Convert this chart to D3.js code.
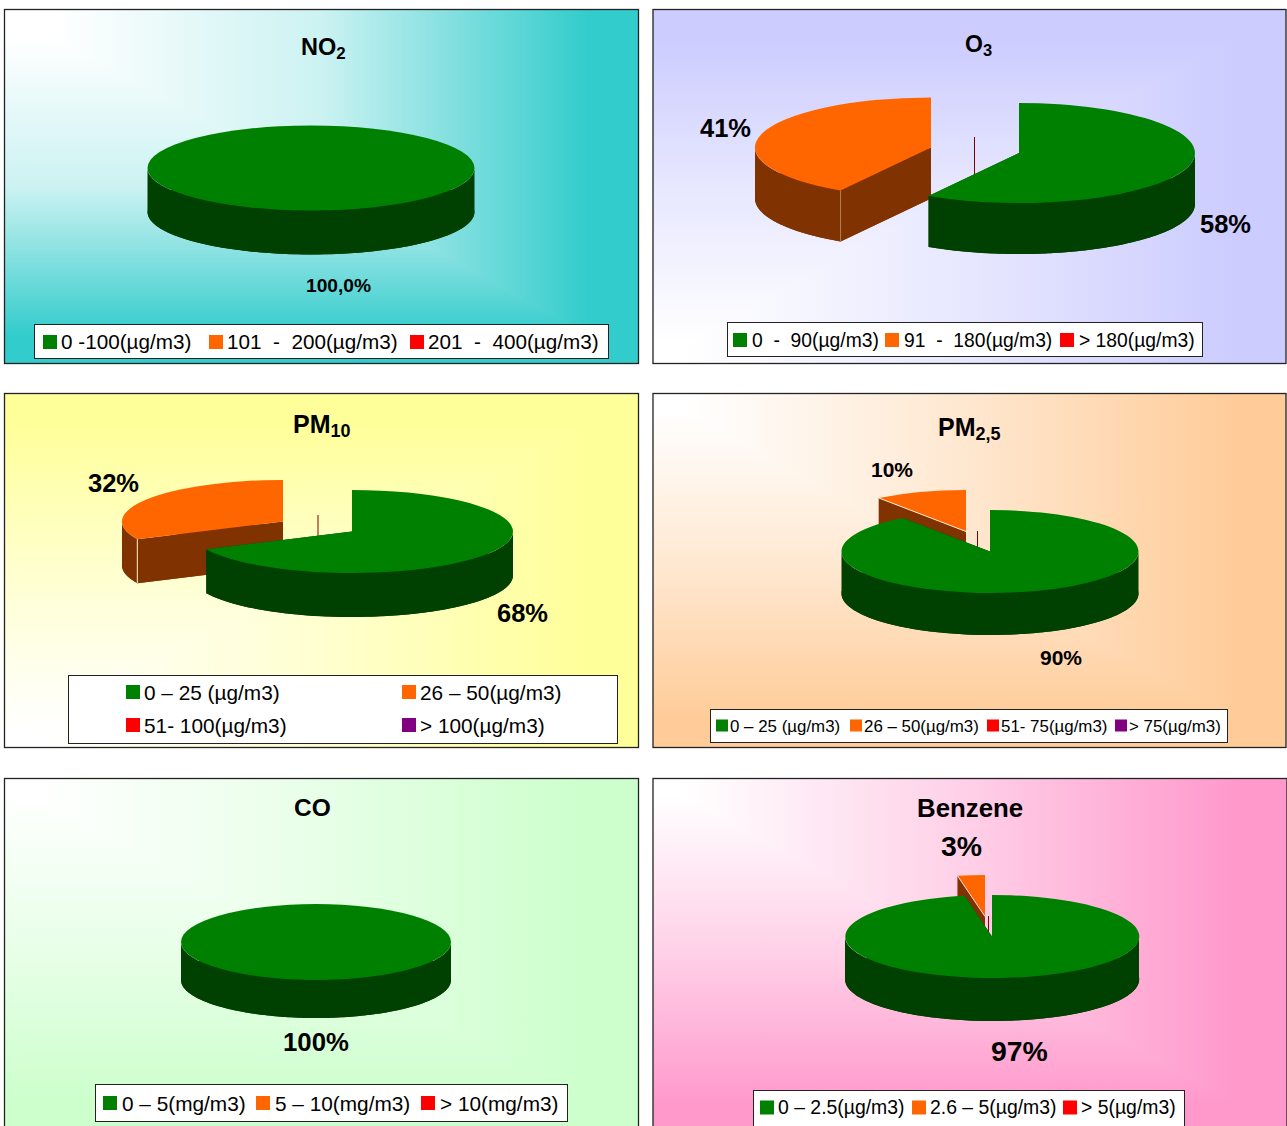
<!DOCTYPE html>
<html>
<head>
<meta charset="utf-8">
<script src="https://cdn.jsdelivr.net/npm/d3@7"></script>
<style>
  html, body { margin: 0; padding: 0; background: #fff; overflow: hidden; }
  text { font-family: "Liberation Sans", Arial, sans-serif; fill: #000; }
</style>
</head>
<body>
<div id="chart"></div>
<script>
// values, green / orange / red / purple
const no2_values = [100, 0, 0];
const o3_values = [58, 41, 0];
const pm10_values = [68, 32, 0, 0];
const pm25_values = [90, 10, 0, 0];
const co_values = [100, 0, 0];
const benzene_values = [97, 3, 0];

const no2_labels = ["100,0%"];
const o3_labels = ["58%", "41%"];
const pm10_labels = ["68%", "32%"];
const pm25_labels = ["90%", "10%"];
const co_labels = ["100%"];
const benzene_labels = ["97%", "3%"];

const no2_legend = ["0 -100(µg/m3)", "101  -  200(µg/m3)", "201  -  400(µg/m3)"];
const o3_legend = ["0  -  90(µg/m3)", "91  -  180(µg/m3)", "> 180(µg/m3)"];
const pm10_legend = ["0 – 25 (µg/m3)", "26 – 50(µg/m3)", "51- 100(µg/m3)", "> 100(µg/m3)"];
const pm25_legend = ["0 – 25 (µg/m3)", "26 – 50(µg/m3)", "51- 75(µg/m3)", "> 75(µg/m3)"];
const co_legend = ["0 – 5(mg/m3)", "5 – 10(mg/m3)", "> 10(mg/m3)"];
const benzene_legend = ["0 – 2.5(µg/m3)", "2.6 – 5(µg/m3)", "> 5(µg/m3)"];

const top_colors = ["#008000", "#ff6600", "#ff0000", "#800080"];
const wall_colors = ["#004000", "#803300", "#800000", "#400040"];

// gradient stops as [offset, share of panel colour]
const soft_fade = [[0.08, 0], [0.5, 0.25], [0.7, 0.6], [0.92, 1]];
const even_fade = [[0.05, 0], [0.5, 0.47], [0.92, 1]];

const panels = [
  {
    title: "NO", sub: "2", titleX: 301, titleY: 55, titleSize: 23.5,
    values: no2_values, labels: no2_labels, legend: no2_legend,
    box: [4.5, 9.5, 634, 354], color: "#33cccc", corner: "top", fade: soft_fade,
    rx: 163.5, ry: 42.5, depth: 44, centers: [[311, 168]],
    labelPos: [[306, 292]], labelSize: 19.2,
    legendBox: [34.5, 324.5, 574, 34], legendSize: 20.7, swatch: 14,
    legendPos: [[43, 342], [209, 342], [410, 342]], gap: 4
  },
  {
    title: "O", sub: "3", titleX: 965, titleY: 52, titleSize: 23,
    values: o3_values, labels: o3_labels, legend: o3_legend,
    box: [653, 9.5, 633, 354], color: "#ccccff", corner: "bottom", fade: even_fade,
    rx: 176, ry: 50, depth: 51, centers: [[1019, 153], [931, 147.5], [974.5, 187]],
    labelPos: [[1200, 233], [700, 137]], labelSize: 25.5, edge: "rim", edgeColor: "#b08050",
    legendBox: [727.5, 322.5, 475, 34], legendSize: 19.3, swatch: 14,
    legendPos: [[733, 340], [885, 340], [1060, 340]], gap: 5
  },
  {
    title: "PM", sub: "10", titleX: 293, titleY: 433, titleSize: 25,
    values: pm10_values, labels: pm10_labels, legend: pm10_legend,
    box: [4.5, 393.5, 634, 354], color: "#ffff99", corner: "bottom", fade: even_fade,
    rx: 161, ry: 41.5, depth: 44, centers: [[352, 531.5], [283, 521.5], [318, 556.5]],
    labelPos: [[497, 622], [88, 492]], labelSize: 25.5, edge: "rim", edgeColor: "#fff0d0",
    legendBox: [68.5, 675.5, 549, 68], legendSize: 20.8, swatch: 14,
    legendPos: [[126, 692], [402, 692], [126, 725], [402, 725]], gap: 4
  },
  {
    title: "PM", sub: "2,5", titleX: 938, titleY: 436, titleSize: 25,
    values: pm25_values, labels: pm25_labels, legend: pm25_legend,
    box: [653, 393.5, 633, 354], color: "#ffcc99", corner: "top", fade: even_fade,
    rx: 148.5, ry: 41.5, depth: 42, centers: [[990, 551.5], [966, 531.5], [977.5, 572.5]],
    labelPos: [[1040, 665], [871, 477]], labelSize: 21, edge: "radial", edgeColor: "#ffe8d0",
    legendBox: [710.5, 709.5, 517, 33], legendSize: 16.9, swatch: 12,
    legendPos: [[716, 725.5], [850, 725.5], [987, 725.5], [1115, 725.5]], gap: 2
  },
  {
    title: "CO", titleX: 294, titleY: 816, titleSize: 24.5,
    values: co_values, labels: co_labels, legend: co_legend,
    box: [4.5, 778.5, 634, 354], color: "#ccffcc", corner: "top", fade: even_fade,
    rx: 135, ry: 38, depth: 38, centers: [[316, 942]],
    labelPos: [[283, 1051]], labelSize: 25.8,
    legendBox: [95.5, 1084.5, 472, 37], legendSize: 20.8, swatch: 14,
    legendPos: [[103, 1103], [256, 1103], [421, 1103]], gap: 5
  },
  {
    title: "Benzene", titleX: 917, titleY: 817, titleSize: 25.8,
    values: benzene_values, labels: benzene_labels, legend: benzene_legend,
    box: [653, 778.5, 634, 354], color: "#ff99cc", corner: "top", fade: even_fade,
    rx: 147, ry: 41.5, depth: 43, centers: [[992, 936.5], [985, 916.5], [988.5, 957.5]],
    labelPos: [[991, 1061], [941, 856]], labelSize: 28.4, edge: "radial", edgeColor: "#ffd0e0",
    legendBox: [753.5, 1090.5, 431, 36], legendSize: 19.4, swatch: 14,
    legendPos: [[760, 1107.5], [912, 1107.5], [1063, 1107.5]], gap: 4
  }
];

const svg = d3.select("#chart").append("svg")
  .attr("width", 1287)
  .attr("height", 1126)
  .style("display", "block");
const defs = svg.append("defs");

// from-corner fill: two triangles, one fading across and one fading down
function draw_background(g, p, i)
{
  const [x, y, w, h] = p.box;
  const atBottom = p.corner == "bottom";
  const cornerY = atBottom ? y + h : y;
  const farY = atBottom ? y : y + h;
  const mix = d3.interpolateRgb("#fff", p.color);

  const across = "grad-x-" + i;
  const down = "grad-y-" + i;
  [[across, x, y, x + w, y], [down, x, cornerY, x, farY]].forEach(function (d) {
    const grad = defs.append("linearGradient")
      .attr("id", d[0])
      .attr("gradientUnits", "userSpaceOnUse")
      .attr("x1", d[1]).attr("y1", d[2])
      .attr("x2", d[3]).attr("y2", d[4]);
    p.fade.forEach(function (s) {
      grad.append("stop").attr("offset", s[0]).attr("stop-color", mix(s[1]));
    });
  });

  g.append("rect")
    .attr("x", x).attr("y", y).attr("width", w).attr("height", h)
    .attr("fill", "url(#" + down + ")");
  g.append("polygon")
    .attr("points", [[x, cornerY], [x + w, cornerY], [x + w, farY]].join(" "))
    .attr("fill", "url(#" + across + ")");
  g.append("rect")
    .attr("x", x).attr("y", y).attr("width", w).attr("height", h)
    .attr("fill", "none")
    .attr("stroke", "#222")
    .attr("stroke-width", 1.3);
}

function draw_pie(g, p)
{
  const slices = d3.pie().sort(null).value(d => d)(p.values);
  const arc = d3.arc().innerRadius(0).outerRadius(1);
  const line = d3.line();

  // orange goes behind green, so walk the slices backwards
  for (let i = slices.length - 1; i >= 0; i--)
  {
    const s = slices[i];
    const c = p.centers[i];
    if (!c) continue;

    const rim = a => [c[0] + p.rx * Math.sin(a), c[1] - p.ry * Math.cos(a)];
    const drop = q => [q[0], q[1] + p.depth];

    // empty slice: only its wall edge shows, as a thin line
    if (s.value == 0)
    {
      g.append("line")
        .attr("x1", c[0]).attr("y1", c[1] - p.ry)
        .attr("x2", c[0]).attr("y2", c[1])
        .attr("stroke", wall_colors[i])
        .attr("stroke-width", 1);
      continue;
    }

    const wall = g.append("g").attr("fill", wall_colors[i]);

    // bottom face, seen only where it sticks out below the top
    wall.append("path")
      .attr("d", arc(s))
      .attr("transform", `translate(${c[0]},${c[1] + p.depth}) scale(${p.rx},${p.ry})`);

    // the rim can only be seen on the front half of the ellipse
    const a0 = Math.max(s.startAngle, Math.PI / 2);
    const a1 = Math.min(s.endAngle, Math.PI * 1.5);
    if (a1 > a0)
    {
      const outer = d3.range(0, 121).map(k => rim(a0 + (a1 - a0) * k / 120));
      wall.append("path").attr("d", line(outer.concat(outer.map(drop).reverse())) + "Z");
    }
    [s.startAngle, s.endAngle].forEach(function (a) {
      wall.append("path").attr("d", line([c, rim(a), drop(rim(a)), drop(c)]) + "Z");
    });

    g.append("path")
      .attr("d", arc(s))
      .attr("transform", `translate(${c[0]},${c[1]}) scale(${p.rx},${p.ry})`)
      .attr("fill", top_colors[i]);

    if (i > 0 && p.edge)
    {
      const tip = rim(s.startAngle);
      const edge = p.edge == "rim" ? [tip, drop(tip)] : [tip, c];
      g.append("path")
        .attr("d", line(edge))
        .attr("fill", "none")
        .attr("stroke", p.edgeColor)
        .attr("stroke-width", 1);
    }
  }
}

function draw_title(g, p)
{
  const title = g.append("text")
    .attr("x", p.titleX)
    .attr("y", p.titleY)
    .attr("font-size", p.titleSize)
    .attr("font-weight", "bold")
    .text(p.title);
  if (p.sub)
    title.append("tspan")
      .attr("dy", 4)
      .attr("font-size", p.titleSize * 0.72)
      .text(p.sub);
}

function draw_legend(g, p)
{
  const [x, y, w, h] = p.legendBox;
  g.append("rect")
    .attr("x", x).attr("y", y).attr("width", w).attr("height", h)
    .attr("fill", "#fff")
    .attr("stroke", "#222")
    .attr("stroke-width", 1);

  const items = g.selectAll("g.item")
    .data(p.legend)
    .join("g")
    .attr("class", "item")
    .attr("transform", (d, i) => `translate(${p.legendPos[i][0]},${p.legendPos[i][1]})`);
  items.append("rect")
    .attr("y", -p.swatch / 2)
    .attr("width", p.swatch)
    .attr("height", p.swatch)
    .attr("fill", (d, i) => top_colors[i]);
  items.append("text")
    .attr("x", p.swatch + p.gap)
    .attr("y", p.legendSize * 0.36)
    .attr("font-size", p.legendSize)
    .attr("xml:space", "preserve")
    .style("white-space", "pre")
    .text(d => d);
}

panels.forEach(function (p, i) {
  const g = svg.append("g").attr("class", "panel");
  draw_background(g, p, i);
  draw_pie(g, p);
  draw_title(g, p);

  g.selectAll("text.pct")
    .data(p.labels)
    .join("text")
    .attr("class", "pct")
    .attr("x", (d, k) => p.labelPos[k][0])
    .attr("y", (d, k) => p.labelPos[k][1])
    .attr("font-size", p.labelSize)
    .attr("font-weight", "bold")
    .text(d => d);

  draw_legend(g, p);
});
</script>
</body>
</html>
